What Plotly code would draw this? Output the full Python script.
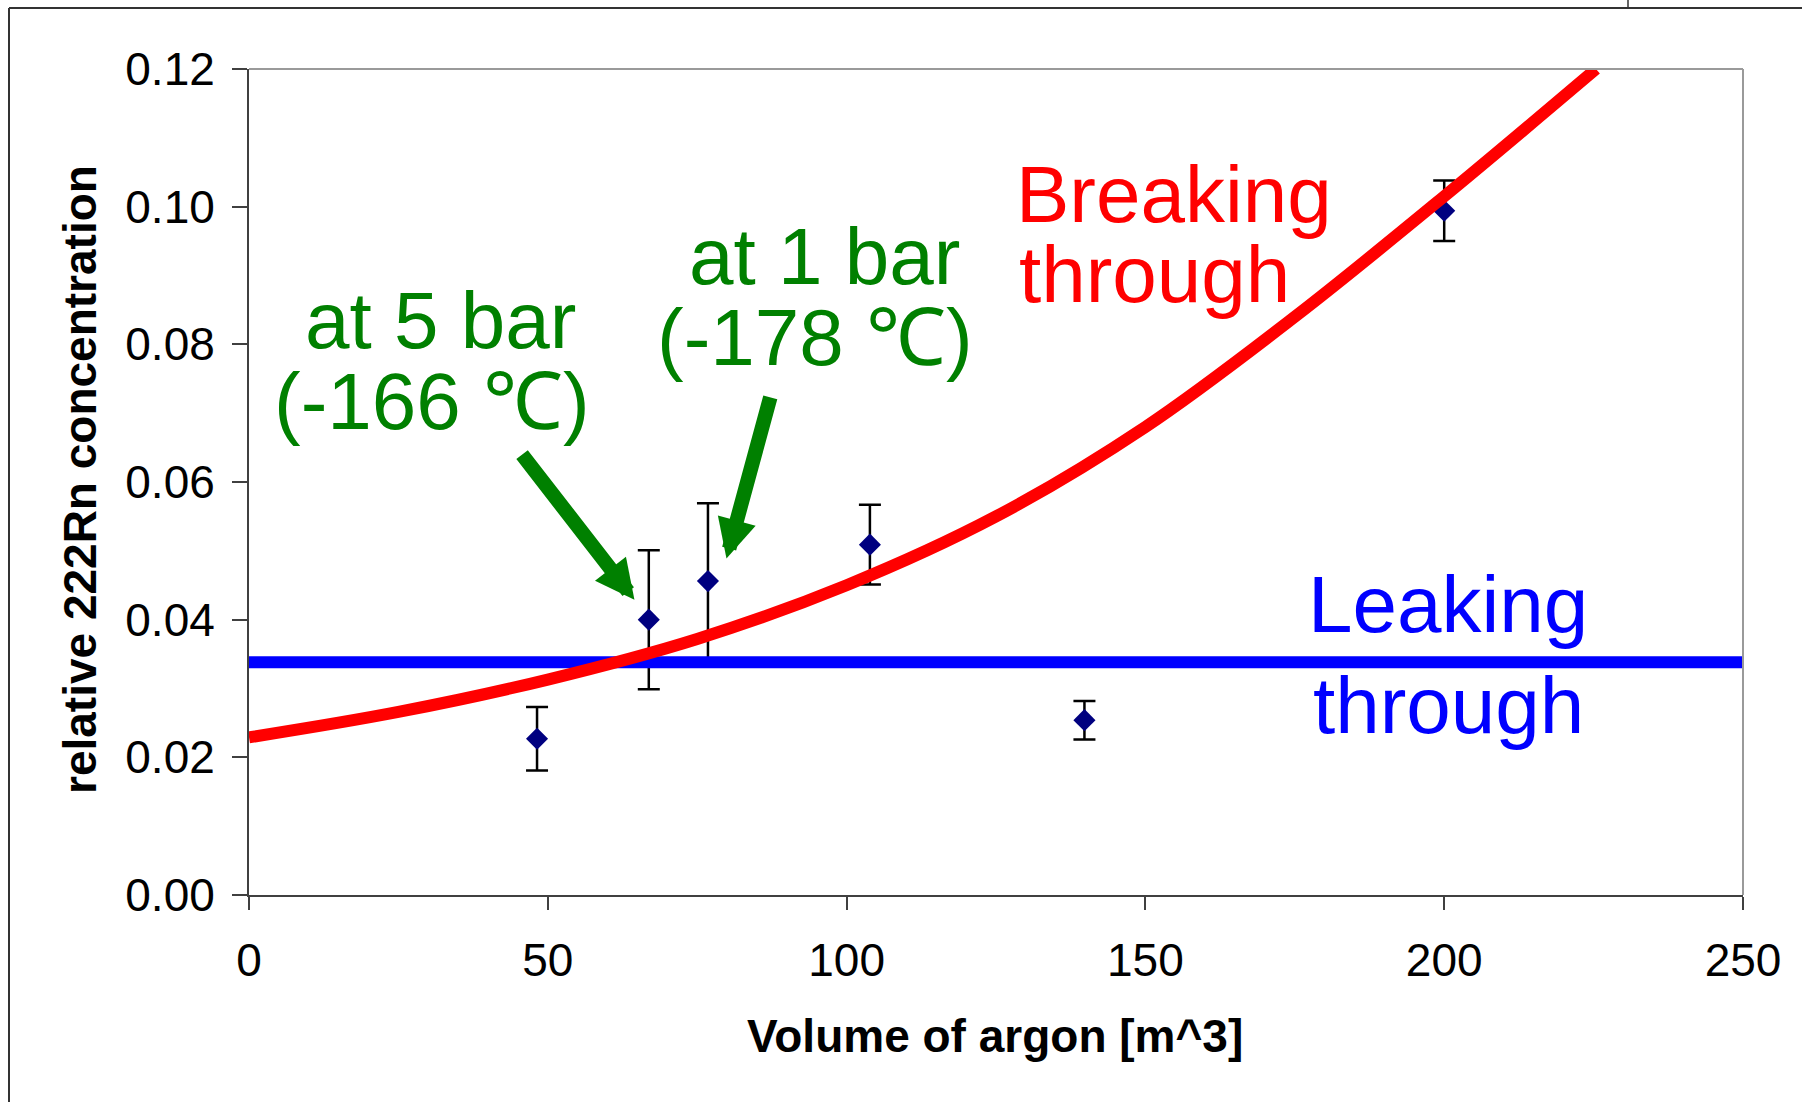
import plotly.graph_objects as go

# ---- data ----
volume = [48.2, 66.9, 76.8, 103.9, 139.8, 200.0]
concentration = [0.0227, 0.0400, 0.0456, 0.0509, 0.0254, 0.0994]
conc_error = [0.0046, 0.0101, 0.0113, 0.0058, 0.0028, 0.0044]

fit_volume = [0, 25, 50, 75, 100, 125, 150, 175, 200, 225.4]
fit_conc = [0.0229, 0.0266, 0.0313, 0.0372, 0.0450, 0.0550, 0.0680, 0.0840, 0.1015, 0.1200]

leak_volume = [0, 250]
leak_conc = [0.0338, 0.0338]

x_ticks = [0, 50, 100, 150, 200, 250]
y_ticks = [0.00, 0.02, 0.04, 0.06, 0.08, 0.10, 0.12]
y_tick_labels = ["0.00", "0.02", "0.04", "0.06", "0.08", "0.10", "0.12"]

# ---- layout geometry ----
W, H = 1802, 1102
L, R, T, B = 249, 59, 69, 207
PW, PH = W - L - R, H - T - B


def px_x(p):
    return (p - L) / PW


def px_y(p):
    return (H - B - p) / PH


FONT = "Arial, 'Liberation Sans', sans-serif"
GREEN = "#008000"
RED = "#FF0000"
BLUE = "#0000FF"

fig = go.Figure()

fig.add_trace(go.Scatter(
    x=volume, y=concentration, mode="markers",
    marker=dict(symbol="diamond", size=17, color="#000080"),
    error_y=dict(type="data", array=conc_error, color="black", thickness=2.5, width=11),
    showlegend=False, cliponaxis=False,
))
fig.add_trace(go.Scatter(
    x=leak_volume, y=leak_conc, mode="lines",
    line=dict(color=BLUE, width=12), showlegend=False,
))
fig.add_trace(go.Scatter(
    x=fit_volume, y=fit_conc, mode="lines",
    line=dict(color=RED, width=12, shape="spline"), showlegend=False,
))

big = 80
annotations = []


def text_ann(txt, xc, yc, color, anchor="center", size=big):
    annotations.append(dict(
        text=txt, x=px_x(xc), y=px_y(yc), xref="paper", yref="paper",
        xanchor=anchor, yanchor="middle", showarrow=False,
        font=dict(family=FONT, size=size, color=color),
    ))


text_ann("Breaking", 1014, 194, RED, "left")
text_ann("through", 1017, 274, RED, "left")
text_ann("Leaking", 1306, 604, BLUE, "left")
text_ann("through", 1311, 705, BLUE, "left")
text_ann("at 5 bar", 440, 320, GREEN)
text_ann("(-166 \u2103)", 432, 401, GREEN)
text_ann("at 1 bar", 824, 256, GREEN)
text_ann("(-178 \u2103)", 815, 337, GREEN)

# arrows
for tip_x, tip_y, tail_x, tail_y in [(64.5, 0.0429, 45.5, 0.0642), (79.9, 0.0489, 87.3, 0.0725)]:
    annotations.append(dict(
        text="", x=tip_x, y=tip_y, xref="x", yref="y",
        ax=tail_x, ay=tail_y, axref="x", ayref="y",
        showarrow=True, arrowhead=2, arrowsize=0.54, arrowwidth=14.5,
        arrowcolor=GREEN, standoff=0,
    ))

# axis titles
annotations.append(dict(
    text="<b>Volume of argon [m^3]</b>", x=px_x(995), y=px_y(1036),
    xref="paper", yref="paper", xanchor="center", yanchor="middle", showarrow=False,
    font=dict(family=FONT, size=46, color="black"),
))
annotations.append(dict(
    text="<b>relative 222Rn concentration</b>", x=px_x(80), y=px_y(480),
    xref="paper", yref="paper", xanchor="center", yanchor="middle", showarrow=False,
    textangle=-90, font=dict(family=FONT, size=46, color="black"),
))

shapes = [
    # plot-area border (top, right) in gray
    dict(type="line", xref="paper", yref="paper", x0=0, x1=1, y0=1, y1=1,
         line=dict(color="#9a9a9a", width=2)),
    dict(type="line", xref="paper", yref="paper", x0=1, x1=1, y0=0, y1=1,
         line=dict(color="#9a9a9a", width=2)),
    # outer slide frame
    dict(type="line", xref="paper", yref="paper", x0=px_x(9), x1=px_x(1802), y0=px_y(8), y1=px_y(8),
         line=dict(color="#333333", width=2)),
    dict(type="line", xref="paper", yref="paper", x0=px_x(9), x1=px_x(9), y0=px_y(8), y1=px_y(1102),
         line=dict(color="#333333", width=2)),
    dict(type="line", xref="paper", yref="paper", x0=px_x(1628), x1=px_x(1628), y0=px_y(0), y1=px_y(8),
         line=dict(color="#333333", width=1.5)),
]

fig.update_layout(
    width=W, height=H,
    margin=dict(l=L, r=R, t=T, b=B, pad=0),
    paper_bgcolor="white", plot_bgcolor="white",
    font=dict(family=FONT, color="black"),
    annotations=annotations, shapes=shapes,
    xaxis=dict(
        range=[0, 250], tickvals=x_ticks, ticktext=[str(v) for v in x_ticks],
        showgrid=False, zeroline=False, showline=True, linecolor="#404040", linewidth=2,
        ticks="outside", ticklen=13, tickwidth=1.5, tickcolor="#404040",
        tickfont=dict(family=FONT, size=46, color="black"), ticklabelstandoff=11,
    ),
    yaxis=dict(
        range=[0, 0.12], tickvals=y_ticks, ticktext=y_tick_labels,
        showgrid=False, zeroline=False, showline=True, linecolor="#404040", linewidth=2,
        ticks="outside", ticklen=15, tickwidth=1.5, tickcolor="#404040",
        tickfont=dict(family=FONT, size=46, color="black"), ticklabelstandoff=8,
    ),
)

fig.write_html("out.html", config={"displayModeBar": False},
               post_script="document.body.style.margin='0';")
